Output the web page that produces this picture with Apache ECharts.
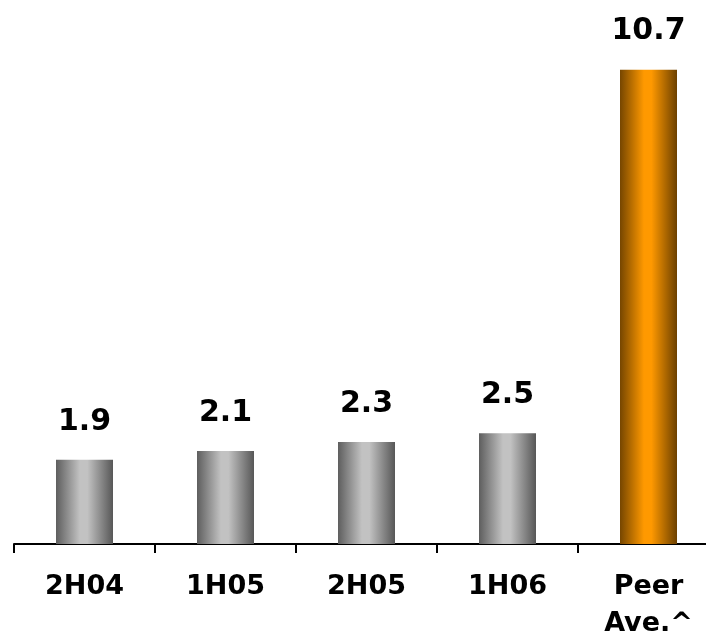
<!DOCTYPE html>
<html>
<head>
<meta charset="utf-8">
<script src="https://cdn.jsdelivr.net/npm/echarts@6/dist/echarts.min.js"></script>
<style>
  html, body { margin: 0; padding: 0; background: #ffffff; overflow: hidden; }
  /* the plot runs a little past the right edge of the window */
  #chart { width: 720px; height: 634px; }
</style>
</head>
<body>
<div id="chart"></div>
<script>
// Half-year periods and the peer average
const categories = ['2H04', '1H05', '2H05', '1H06', 'Peer\nAve.^'];
const values = [1.9, 2.1, 2.3, 2.5, 10.7];
const peerIndex = 4;

// Cylinder-like horizontal shading for the bars
function shade(dark, light, darkRight) {
  return new echarts.graphic.LinearGradient(0, 0, 1, 0, [
    { offset: 0, color: dark },
    { offset: 0.42, color: light },
    { offset: 0.55, color: light },
    { offset: 1, color: darkRight }
  ]);
}
const grayFill = shade('#5e5e5e', '#c2c2c2', '#575757');
const orangeFill = shade('#764600', '#ff9900', '#6c4000');

const chart = echarts.init(document.getElementById('chart'));
chart.setOption({
  animation: false,
  grid: {
    left: 14, right: 1, top: 12, bottom: 90,
    containLabel: false,
    outerBoundsMode: 'none'
  },
  xAxis: {
    type: 'category',
    data: categories,
    axisLine: { lineStyle: { color: '#000', width: 2 } },
    axisTick: { show: true, length: 9, lineStyle: { color: '#000', width: 2 } },
    axisLabel: {
      color: '#000',
      fontFamily: 'DejaVu Sans',
      fontWeight: 'bold',
      fontSize: 27,
      margin: 24,
      lineHeight: 37
    }
  },
  yAxis: {
    type: 'value',
    min: 0,
    max: 12,
    show: false,
    splitLine: { show: false }
  },
  series: [{
    type: 'bar',
    barWidth: 57,
    data: values.map((v, i) => ({
      value: v,
      itemStyle: { color: i === peerIndex ? orangeFill : grayFill }
    })),
    label: {
      show: true,
      position: 'top',
      distance: 23,
      color: '#000',
      fontFamily: 'DejaVu Sans',
      fontWeight: 'bold',
      fontSize: 30,
      formatter: p => p.value.toFixed(1)
    }
  }]
});
</script>
</body>
</html>
